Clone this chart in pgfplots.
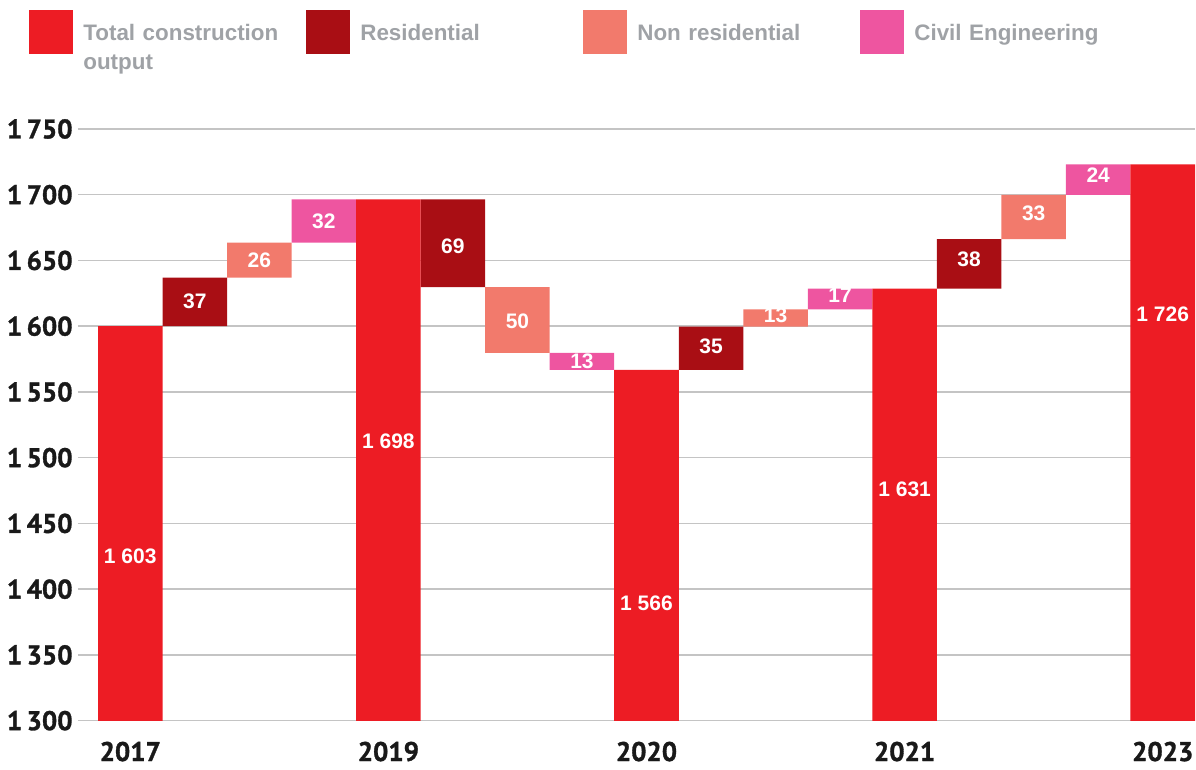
\documentclass[border=0pt]{standalone}
\usepackage{pgfplots}
\pgfplotsset{compat=1.18}
\usepackage{pgfplotstable}
\usepackage{fontspec}
\setmainfont{Liberation Sans}
\newfontfamily\ptsans[FakeBold=1.2]{PT Sans}

\definecolor{totred}{HTML}{ED1C24}
\definecolor{resred}{HTML}{A90E14}
\definecolor{nonres}{HTML}{F27A6C}
\definecolor{civil}{HTML}{EE55A0}
\definecolor{leggray}{HTML}{9FA2A6}
\definecolor{gridgray}{HTML}{C4C4C4}

% floating bars: invisible base + visible step
\pgfplotstableread{
x  base    tot     res   non   civ
0  0       1600    0     0     0
1  1600    0       37    0     0
2  1637    0       0     26.5  0
3  1663.5  0       0     0     33
4  0       1696.5  0     0     0
5  1629.8  0       66.7  0     0
6  1579.8  0       0     50    0
7  1566.7  0       0     0     13.1
8  0       1566.7  0     0     0
9  1566.7  0       32.9  0     0
10 1599.6  0       0     13.2  0
11 1612.8  0       0     0     15.7
12 0       1628.5  0     0     0
13 1628.5  0       37.8  0     0
14 1666.3  0       0     33.5  0
15 1699.8  0       0     0     23.3
16 0       1723.1  0     0     0
}\steps

\pgfplotstableread{
x  y     label
0  1425  {1 603}
1  1618.6 37
2  1650.4 26
3  1680  32
4  1512.7 {1 698}
5  1660.5 69
6  1603.5 50
7  1573.5 13
8  1389.5 {1 566}
9  1585  35
10 1608  13
11 1623.7 17
12 1476  {1 631}
13 1651  38
14 1686  33
15 1715  24
16 1609  {1 726}
}\labels

\begin{document}
\begin{tikzpicture}
\pgfplotsset{
  common/.style={
    scale only axis, width=558.5pt, height=295.85pt,
    xmin=-0.81, xmax=16.5, ymin=1300, ymax=1750,
  },
}
\begin{axis}[
  common, name=main,
  ybar stacked, bar width=1,
  ytick={1300,1350,...,1750},
  xtick={0,4,8,12,16},
  xticklabels={2017,2019,2020,2021,2023},
  ymajorgrids,
  major grid style={color=gridgray, line width=0.75pt},
  axis line style={draw=none},
  tick style={draw=none},
  /pgf/number format/assume math mode=true,
  /pgf/number format/1000 sep={\,},
  ticklabel style={font=\ptsans\bfseries\fontsize{13.5}{15}\selectfont, text=black!90},
  yticklabel style={inner sep=0pt, xshift=-2.5pt},
  xticklabel style={yshift=-7pt},
  legend columns=4,
  legend cell align=left,
  legend style={
    draw=none, fill=none, inner sep=0pt,
    at={(axis description cs:-0.0439,1.2011)}, anchor=north west,
    nodes={inner sep=0pt, text width=104pt, align=left, text height=13pt, text depth=5pt,
      font=\bfseries\fontsize{11.2}{14.5}\selectfont, text=leggray},
    /tikz/every odd column/.append style={column sep=5pt},
    /tikz/every even column/.append style={column sep=7.5pt},
  },
  legend image code/.code={\fill[#1,draw=none] (0pt,-11pt) rectangle (22pt,11pt);},
]
\addplot[fill=none, draw=none, forget plot] table[x=x, y=base] {\steps};
\addplot[fill=totred, draw=none] table[x=x, y=tot] {\steps};
\addlegendentry{Total construction\\output}
\addplot[fill=resred, draw=none] table[x=x, y=res] {\steps};
\addlegendentry{Residential}
\addplot[fill=nonres, draw=none] table[x=x, y=non] {\steps};
\addlegendentry{Non residential}
\addplot[fill=civil, draw=none] table[x=x, y=civ] {\steps};
\addlegendentry{Civil Engineering}
\end{axis}

\begin{axis}[common, hide axis]
\addplot[only marks, mark=none,
  nodes near coords, point meta=explicit symbolic,
  nodes near coords align=center,
  every node near coord/.style={font=\bfseries\fontsize{10.5}{12}\selectfont, text=white, inner sep=0pt},
] table[x=x, y=y, meta=label] {\labels};
\end{axis}

\path (main.south west) +(-39pt,-24.65pt) coordinate (bl)
      (main.north east) +(0.5pt,64.5pt) coordinate (tr);
\pgfresetboundingbox
\path[use as bounding box] (bl) rectangle (tr);
\end{tikzpicture}
\end{document}
